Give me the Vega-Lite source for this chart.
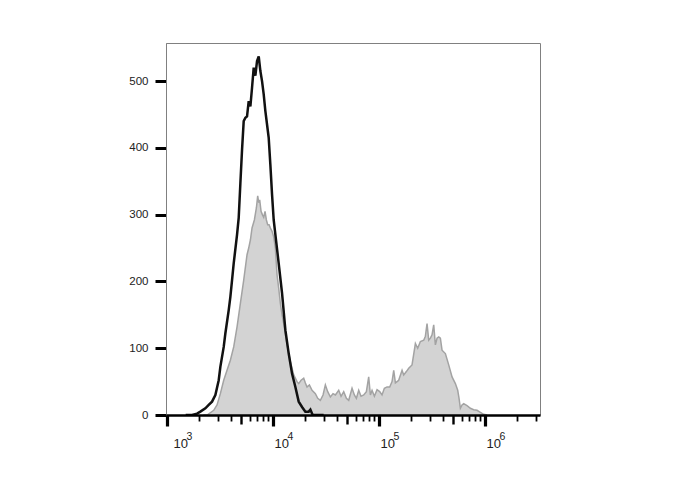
{
  "$schema": "https://vega.github.io/schema/vega-lite/v6.json",
  "width": 374,
  "height": 372,
  "autosize": {"type": "none"},
  "padding": {"left": 166, "top": 43, "right": 148, "bottom": 75},
  "background": "white",
  "config": {"view": {"stroke": "#808080", "strokeWidth": 1}, "font": "Liberation Sans"},
  "datasets": {
    "stained": [
      {"fluorescence": 2200, "count": 0}, {"fluorescence": 2385, "count": 0}, {"fluorescence": 2757, "count": 7}, {"fluorescence": 2963, "count": 15},
      {"fluorescence": 3185, "count": 32}, {"fluorescence": 3426, "count": 52}, {"fluorescence": 3682, "count": 67}, {"fluorescence": 3959, "count": 82},
      {"fluorescence": 4256, "count": 102}, {"fluorescence": 4577, "count": 132}, {"fluorescence": 4920, "count": 167}, {"fluorescence": 5289, "count": 202},
      {"fluorescence": 5686, "count": 240}, {"fluorescence": 5896, "count": 250}, {"fluorescence": 6115, "count": 262}, {"fluorescence": 6338, "count": 280},
      {"fluorescence": 6667, "count": 292}, {"fluorescence": 6965, "count": 310}, {"fluorescence": 7168, "count": 328}, {"fluorescence": 7328, "count": 318},
      {"fluorescence": 7486, "count": 322}, {"fluorescence": 7709, "count": 305}, {"fluorescence": 7932, "count": 300}, {"fluorescence": 8167, "count": 296},
      {"fluorescence": 8405, "count": 305}, {"fluorescence": 8656, "count": 292}, {"fluorescence": 8907, "count": 285}, {"fluorescence": 9173, "count": 285},
      {"fluorescence": 9437, "count": 280}, {"fluorescence": 9790, "count": 275}, {"fluorescence": 10146, "count": 267}, {"fluorescence": 10520, "count": 250},
      {"fluorescence": 10910, "count": 210}, {"fluorescence": 11310, "count": 190}, {"fluorescence": 11730, "count": 167}, {"fluorescence": 12170, "count": 150},
      {"fluorescence": 12610, "count": 137}, {"fluorescence": 13560, "count": 105}, {"fluorescence": 14580, "count": 80}, {"fluorescence": 15670, "count": 60},
      {"fluorescence": 16850, "count": 50}, {"fluorescence": 17470, "count": 47}, {"fluorescence": 18380, "count": 52}, {"fluorescence": 19470, "count": 55},
      {"fluorescence": 20190, "count": 48}, {"fluorescence": 20930, "count": 42}, {"fluorescence": 22030, "count": 45}, {"fluorescence": 23340, "count": 37},
      {"fluorescence": 25090, "count": 32}, {"fluorescence": 26400, "count": 25}, {"fluorescence": 27960, "count": 22}, {"fluorescence": 29630, "count": 30},
      {"fluorescence": 31170, "count": 45}, {"fluorescence": 32800, "count": 35}, {"fluorescence": 34760, "count": 27}, {"fluorescence": 36820, "count": 32},
      {"fluorescence": 38750, "count": 30}, {"fluorescence": 41650, "count": 37}, {"fluorescence": 43820, "count": 28}, {"fluorescence": 46440, "count": 35},
      {"fluorescence": 49200, "count": 25}, {"fluorescence": 51760, "count": 22}, {"fluorescence": 55640, "count": 40}, {"fluorescence": 58540, "count": 30},
      {"fluorescence": 61150, "count": 25}, {"fluorescence": 64320, "count": 37}, {"fluorescence": 67650, "count": 28}, {"fluorescence": 71680, "count": 30},
      {"fluorescence": 75970, "count": 35}, {"fluorescence": 79900, "count": 57}, {"fluorescence": 82860, "count": 30}, {"fluorescence": 85940, "count": 37},
      {"fluorescence": 90400, "count": 28}, {"fluorescence": 95770, "count": 38}, {"fluorescence": 101460, "count": 35}, {"fluorescence": 106700, "count": 30},
      {"fluorescence": 112300, "count": 40}, {"fluorescence": 119000, "count": 42}, {"fluorescence": 126100, "count": 42}, {"fluorescence": 132700, "count": 50},
      {"fluorescence": 137600, "count": 67}, {"fluorescence": 142700, "count": 48}, {"fluorescence": 147900, "count": 50}, {"fluorescence": 153300, "count": 52},
      {"fluorescence": 164900, "count": 67}, {"fluorescence": 170900, "count": 60}, {"fluorescence": 181100, "count": 65}, {"fluorescence": 190600, "count": 70},
      {"fluorescence": 204800, "count": 75}, {"fluorescence": 220300, "count": 107}, {"fluorescence": 231700, "count": 100}, {"fluorescence": 245500, "count": 110},
      {"fluorescence": 264000, "count": 112}, {"fluorescence": 273700, "count": 118}, {"fluorescence": 283700, "count": 137}, {"fluorescence": 294200, "count": 112},
      {"fluorescence": 305100, "count": 115}, {"fluorescence": 316200, "count": 120}, {"fluorescence": 328000, "count": 135}, {"fluorescence": 340100, "count": 105},
      {"fluorescence": 352600, "count": 115}, {"fluorescence": 365600, "count": 117}, {"fluorescence": 379000, "count": 115}, {"fluorescence": 393000, "count": 97},
      {"fluorescence": 422500, "count": 92}, {"fluorescence": 454300, "count": 75}, {"fluorescence": 488500, "count": 57}, {"fluorescence": 525100, "count": 47},
      {"fluorescence": 552400, "count": 37}, {"fluorescence": 568600, "count": 25}, {"fluorescence": 585400, "count": 10}, {"fluorescence": 607000, "count": 15},
      {"fluorescence": 629200, "count": 17}, {"fluorescence": 676500, "count": 14}, {"fluorescence": 727400, "count": 10}, {"fluorescence": 782000, "count": 8},
      {"fluorescence": 840500, "count": 7}, {"fluorescence": 904000, "count": 4}, {"fluorescence": 971800, "count": 1}, {"fluorescence": 1045000, "count": 0}
    ],
    "control": [
      {"fluorescence": 1500, "count": 0}, {"fluorescence": 1722, "count": 0}, {"fluorescence": 1920, "count": 2}, {"fluorescence": 2063, "count": 5},
      {"fluorescence": 2300, "count": 10}, {"fluorescence": 2473, "count": 15}, {"fluorescence": 2658, "count": 20}, {"fluorescence": 2858, "count": 30},
      {"fluorescence": 3073, "count": 52}, {"fluorescence": 3185, "count": 72}, {"fluorescence": 3426, "count": 102}, {"fluorescence": 3550, "count": 122},
      {"fluorescence": 3819, "count": 157}, {"fluorescence": 3959, "count": 177}, {"fluorescence": 4106, "count": 202}, {"fluorescence": 4256, "count": 227},
      {"fluorescence": 4577, "count": 270}, {"fluorescence": 4744, "count": 295}, {"fluorescence": 4920, "count": 347}, {"fluorescence": 5101, "count": 397},
      {"fluorescence": 5289, "count": 440}, {"fluorescence": 5485, "count": 445}, {"fluorescence": 5686, "count": 447}, {"fluorescence": 5896, "count": 470},
      {"fluorescence": 6115, "count": 462}, {"fluorescence": 6338, "count": 490}, {"fluorescence": 6573, "count": 520}, {"fluorescence": 6814, "count": 508},
      {"fluorescence": 7065, "count": 530}, {"fluorescence": 7328, "count": 537}, {"fluorescence": 7597, "count": 515}, {"fluorescence": 7876, "count": 500},
      {"fluorescence": 8167, "count": 480}, {"fluorescence": 8468, "count": 455}, {"fluorescence": 8781, "count": 435}, {"fluorescence": 9105, "count": 415},
      {"fluorescence": 9437, "count": 375}, {"fluorescence": 9790, "count": 330}, {"fluorescence": 10146, "count": 292}, {"fluorescence": 10670, "count": 262},
      {"fluorescence": 11310, "count": 227}, {"fluorescence": 12170, "count": 182}, {"fluorescence": 13080, "count": 127}, {"fluorescence": 14060, "count": 92},
      {"fluorescence": 15110, "count": 62}, {"fluorescence": 16250, "count": 42}, {"fluorescence": 17470, "count": 20}, {"fluorescence": 18780, "count": 12},
      {"fluorescence": 20190, "count": 5}, {"fluorescence": 21710, "count": 5}, {"fluorescence": 22510, "count": 8}, {"fluorescence": 23670, "count": 0},
      {"fluorescence": 30000, "count": 0}
    ],
    "exponents": [
      {"fluorescence": 1000, "count": 0, "exponent": "3"},
      {"fluorescence": 10000, "count": 0, "exponent": "4"},
      {"fluorescence": 100000, "count": 0, "exponent": "5"},
      {"fluorescence": 1000000, "count": 0, "exponent": "6"}
    ]
  },
  "layer": [
    {
      "data": {"name": "stained"},
      "mark": {"type": "area", "fill": "#d3d3d3", "opacity": 1, "fillOpacity": 1, "line": {"color": "#a3a3a3", "strokeWidth": 1.5}, "clip": true},
      "encoding": {
        "x": {
          "field": "fluorescence", "type": "quantitative",
          "scale": {"type": "log", "domain": [978, 3300000], "nice": false},
          "axis": {
            "title": null, "grid": false, "zindex": 1,
            "values": [1000, 2000, 3000, 4000, 5000, 6000, 7000, 8000, 9000, 10000, 20000, 30000, 40000, 50000, 60000, 70000, 80000, 90000, 100000, 200000, 300000, 400000, 500000, 600000, 700000, 800000, 900000, 1000000, 2000000, 3000000],
            "labelExpr": "(datum.value == 1000 || datum.value == 10000 || datum.value == 100000 || datum.value == 1000000) ? '10' : ''",
            "domainColor": "#000000", "domainWidth": 2.5,
            "tickColor": "#000000",
            "tickSize": {"condition": [
              {"test": "datum.value == 1000 || datum.value == 10000 || datum.value == 100000 || datum.value == 1000000", "value": 11},
              {"test": "datum.value == 5000 || datum.value == 50000 || datum.value == 500000", "value": 9}
            ], "value": 6},
            "tickWidth": {"condition": [
              {"test": "datum.value == 1000 || datum.value == 10000 || datum.value == 100000 || datum.value == 1000000", "value": 3.2},
              {"test": "datum.value == 5000 || datum.value == 50000 || datum.value == 500000", "value": 2.4}
            ], "value": 1.8},
            "labelFontSize": 13, "labelColor": "#222222", "labelAlign": "left", "labelBaseline": "alphabetic",
            "labelOffset": {"condition": {"test": "datum.value == 1000", "value": 6}, "value": 1},
            "labelPadding": 21,
            "labelFlush": false, "labelOverlap": false
          }
        },
        "y": {
          "field": "count", "type": "quantitative",
          "scale": {"domain": [0, 557], "nice": false},
          "axis": {
            "title": null, "grid": false,
            "values": [0, 25, 50, 75, 100, 125, 150, 175, 200, 225, 250, 275, 300, 325, 350, 375, 400, 425, 450, 475, 500, 525, 550],
            "labelExpr": "datum.value % 100 == 0 ? datum.label : ''",
            "domainColor": "#808080", "domainWidth": 1,
            "tickColor": "#000000",
            "tickSize": {"condition": {"test": "datum.value % 100 == 0", "value": 11}, "value": 5},
            "tickWidth": {"condition": {"test": "datum.value % 100 == 0", "value": 3}, "value": 1.8},
            "labelFontSize": 11.5, "labelColor": "#222222", "labelPadding": 7,
            "labelFlush": false, "labelOverlap": false
          }
        }
      }
    },
    {
      "data": {"name": "control"},
      "mark": {"type": "line", "color": "#111111", "strokeWidth": 2.5, "clip": true},
      "encoding": {
        "x": {"field": "fluorescence", "type": "quantitative"},
        "y": {"field": "count", "type": "quantitative"}
      }
    },
    {
      "data": {"name": "exponents"},
      "transform": [{"filter": "datum.fluorescence == 1000"}],
      "mark": {"type": "text", "align": "left", "baseline": "alphabetic", "dx": 19.5, "dy": 25, "fontSize": 10.5, "color": "#222222", "clip": false},
      "encoding": {
        "x": {"field": "fluorescence", "type": "quantitative"},
        "y": {"field": "count", "type": "quantitative"},
        "text": {"field": "exponent"}
      }
    },
    {
      "data": {"name": "exponents"},
      "transform": [{"filter": "datum.fluorescence != 1000"}],
      "mark": {"type": "text", "align": "left", "baseline": "alphabetic", "dx": 14.5, "dy": 25, "fontSize": 10.5, "color": "#222222", "clip": false},
      "encoding": {
        "x": {"field": "fluorescence", "type": "quantitative"},
        "y": {"field": "count", "type": "quantitative"},
        "text": {"field": "exponent"}
      }
    }
  ]
}
